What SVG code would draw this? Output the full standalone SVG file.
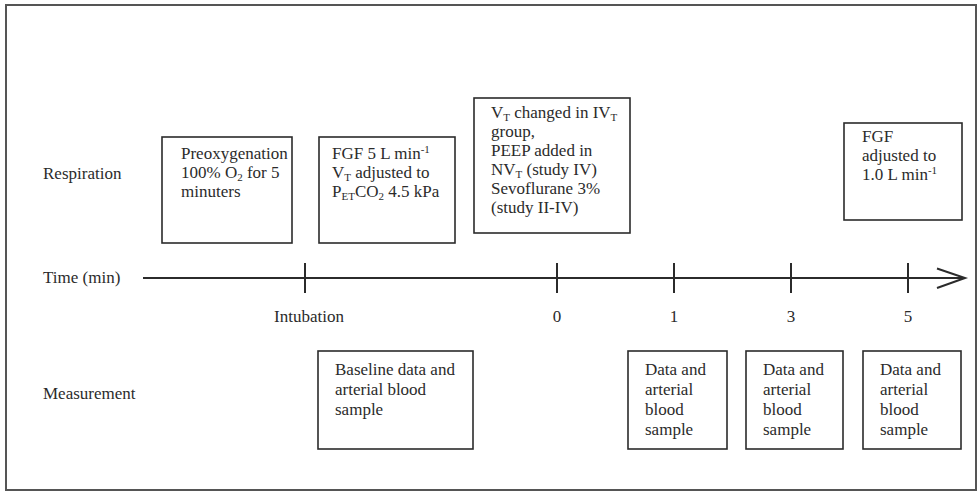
<svg xmlns="http://www.w3.org/2000/svg" width="978" height="492" viewBox="0 0 978 492">
<style>
text{font-family:"Liberation Serif","Times New Roman",serif;fill:#2b2b2b}
.lab{font-size:17px}
.bx{font-size:17px}
.s{font-size:11px}
rect.node{fill:#fff;stroke:#2b2b2b;stroke-width:1.6}
.ax{stroke:#2b2b2b;stroke-width:2;fill:none}
</style>
<rect x="6" y="5" width="970" height="485" fill="#fff" stroke="#555" stroke-width="2"/>
<g id="labels">
<text class="lab" x="43" y="179">Respiration</text>
<text class="lab" x="43" y="283">Time (min)</text>
<text class="lab" x="43" y="399">Measurement</text>
<text class="lab" x="309" y="322" text-anchor="middle">Intubation</text>
<text class="lab" x="557" y="322" text-anchor="middle">0</text>
<text class="lab" x="674" y="322" text-anchor="middle">1</text>
<text class="lab" x="791" y="322" text-anchor="middle">3</text>
<text class="lab" x="908" y="322" text-anchor="middle">5</text>
</g>
<g id="connectors">
<line class="ax" x1="143" y1="278" x2="964" y2="278"/>
<polyline class="ax" points="937,268.5 965,278 937,288"/>
<line class="ax" x1="305" y1="263" x2="305" y2="293"/>
<line class="ax" x1="557" y1="263" x2="557" y2="293"/>
<line class="ax" x1="674" y1="263" x2="674" y2="293"/>
<line class="ax" x1="791" y1="263" x2="791" y2="293"/>
<line class="ax" x1="908" y1="263" x2="908" y2="293"/>
</g>
<g id="preox">
<rect class="node" x="162" y="137" width="130" height="106"/>
<text class="bx" x="181" y="159">Preoxygenation</text>
<text class="bx" x="181" y="178">100% O<tspan class="s" dy="3">2</tspan><tspan dy="-3"> for 5</tspan></text>
<text class="bx" x="181" y="197">minuters</text>
</g>
<g id="fgf5">
<rect class="node" x="319" y="137" width="136" height="106"/>
<text class="bx" x="332" y="159">FGF 5 L min<tspan class="s" dy="-6">-1</tspan></text>
<text class="bx" x="332" y="178">V<tspan class="s" dy="3">T</tspan><tspan dy="-3"> adjusted to</tspan></text>
<text class="bx" x="332" y="197">P<tspan class="s" dy="3">ET</tspan><tspan dy="-3">CO</tspan><tspan class="s" dy="3">2</tspan><tspan dy="-3"> 4.5 kPa</tspan></text>
</g>
<g id="vtchange">
<rect class="node" x="474" y="98" width="156" height="135"/>
<text class="bx" x="491" y="118">V<tspan class="s" dy="3">T</tspan><tspan dy="-3"> changed in IV</tspan><tspan class="s" dy="3">T</tspan></text>
<text class="bx" x="491" y="137">group,</text>
<text class="bx" x="491" y="156">PEEP added in</text>
<text class="bx" x="491" y="175">NV<tspan class="s" dy="3">T</tspan><tspan dy="-3"> (study IV)</tspan></text>
<text class="bx" x="491" y="194">Sevoflurane 3%</text>
<text class="bx" x="491" y="213">(study II-IV)</text>
</g>
<g id="fgf1">
<rect class="node" x="844" y="123" width="118" height="97"/>
<text class="bx" x="862" y="142">FGF</text>
<text class="bx" x="862" y="161">adjusted to</text>
<text class="bx" x="862" y="180">1.0 L min<tspan class="s" dy="-6">-1</tspan></text>
</g>
<g id="baseline">
<rect class="node" x="318" y="351" width="155" height="98"/>
<text class="bx" x="335" y="375">Baseline data and</text>
<text class="bx" x="335" y="395">arterial blood</text>
<text class="bx" x="335" y="415">sample</text>
</g>
<g id="data1">
<rect class="node" x="628" y="351" width="99" height="98"/>
<text class="bx" x="645" y="375">Data and</text>
<text class="bx" x="645" y="395">arterial</text>
<text class="bx" x="645" y="415">blood</text>
<text class="bx" x="645" y="435">sample</text>
</g>
<g id="data3">
<rect class="node" x="746" y="351" width="97" height="98"/>
<text class="bx" x="763" y="375">Data and</text>
<text class="bx" x="763" y="395">arterial</text>
<text class="bx" x="763" y="415">blood</text>
<text class="bx" x="763" y="435">sample</text>
</g>
<g id="data5">
<rect class="node" x="863" y="351" width="98" height="98"/>
<text class="bx" x="880" y="375">Data and</text>
<text class="bx" x="880" y="395">arterial</text>
<text class="bx" x="880" y="415">blood</text>
<text class="bx" x="880" y="435">sample</text>
</g>
</svg>
